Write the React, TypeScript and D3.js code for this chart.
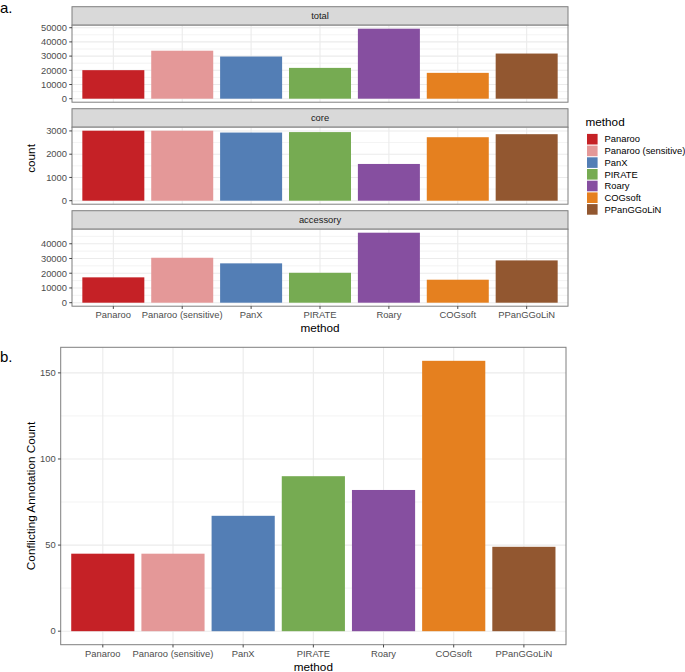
import React from "react";
import * as d3 from "d3";

const methods = ["Panaroo", "Panaroo (sensitive)", "PanX", "PIRATE", "Roary", "COGsoft", "PPanGGoLiN"];
const colors = ["#C52126", "#E49898", "#537EB5", "#76AB52", "#864FA0", "#E5801F", "#925730"];
const totalCounts = [20100, 33800, 29700, 21700, 49300, 18200, 31800];
const coreCounts = [3010, 3010, 2930, 2950, 1580, 2730, 2860];
const accessoryCounts = [17200, 30500, 26700, 20300, 47500, 15600, 28700];
const totalTicks = [0, 10000, 20000, 30000, 40000, 50000];
const coreTicks = [0, 1000, 2000, 3000];
const accessoryTicks = [0, 10000, 20000, 30000, 40000];
const conflictCounts = [45, 45, 67, 90, 82, 157, 49];
const conflictTicks = [0, 50, 100, 150];

const FONT = "'Liberation Sans', Arial, Helvetica, sans-serif";
const TICK_COLOR = "#4D4D4D";
const GRID = "#EBEBEB";
const BORDER = "#7F7F7F";

type PanelProps = {
  left: number;
  right: number;
  top: number;
  bottom: number;
  values: number[];
  ticks: number[];
  showX: boolean;
};

function Panel({ left, right, top, bottom, values, ticks, showX }: PanelProps) {
  const max = d3.max(values) as number;
  const y = d3.scaleLinear().domain([-0.05 * max, 1.05 * max]).range([bottom, top]);
  const x = d3
    .scaleBand<string>()
    .domain(methods)
    .range([left, right])
    .paddingInner(0.1)
    .paddingOuter(0.15);
  const step = ticks[1] - ticks[0];
  const [d0, d1] = y.domain();
  const minors: number[] = [];
  for (let v = ticks[0] - step / 2; v <= d1; v += step) {
    if (v >= d0 && v <= d1) minors.push(v);
  }
  const bw = x.bandwidth();
  return (
    <g>
      <rect x={left} y={top} width={right - left} height={bottom - top} fill="#fff" />
      {minors.map((v) => (
        <line key={"mi" + v} x1={left} x2={right} y1={y(v)} y2={y(v)} stroke={GRID} strokeWidth={0.6} />
      ))}
      {ticks.map((v) => (
        <line key={"ma" + v} x1={left} x2={right} y1={y(v)} y2={y(v)} stroke={GRID} strokeWidth={1.1} />
      ))}
      {methods.map((m) => (
        <line
          key={"vx" + m}
          x1={(x(m) as number) + bw / 2}
          x2={(x(m) as number) + bw / 2}
          y1={top}
          y2={bottom}
          stroke={GRID}
          strokeWidth={1.1}
        />
      ))}
      {methods.map((m, i) => (
        <rect
          key={"b" + m}
          x={x(m) as number}
          y={y(values[i])}
          width={bw}
          height={y(0) - y(values[i])}
          fill={colors[i]}
        />
      ))}
      <rect x={left} y={top} width={right - left} height={bottom - top} fill="none" stroke={BORDER} strokeWidth={1} />
      {ticks.map((v) => (
        <g key={"yt" + v}>
          <line x1={left - 2.75} x2={left} y1={y(v)} y2={y(v)} stroke="#333" strokeWidth={0.9} />
          <text
            x={left - 5}
            y={y(v)}
            dy="0.35em"
            textAnchor="end"
            fontSize={9.4}
            fill={TICK_COLOR}
            fontFamily={FONT}
          >
            {v}
          </text>
        </g>
      ))}
      {showX &&
        methods.map((m) => (
          <g key={"xt" + m}>
            <line
              x1={(x(m) as number) + bw / 2}
              x2={(x(m) as number) + bw / 2}
              y1={bottom}
              y2={bottom + 2.75}
              stroke="#333"
              strokeWidth={0.9}
            />
            <text
              x={(x(m) as number) + bw / 2}
              y={bottom + 11.8}
              textAnchor="middle"
              fontSize={9.4}
              fill={TICK_COLOR}
              fontFamily={FONT}
            >
              {m}
            </text>
          </g>
        ))}
    </g>
  );
}

const facetNames = ["total", "core", "accessory"];
const facetValues = [totalCounts, coreCounts, accessoryCounts];
const facetTicks = [totalTicks, coreTicks, accessoryTicks];

export default function App() {
  const aLeft = 72;
  const aRight = 568;
  const stripH = 18.5;
  const panelH = 77;
  const facetStep = 102;
  const firstStrip = 6.7;

  const bLeft = 60.7;
  const bRight = 566;
  const bTop = 347.3;
  const bBottom = 644.7;

  const facets = facetNames.map((name, i) => {
    const sTop = firstStrip + i * facetStep;
    return { name, sTop, pTop: sTop + stripH, pBottom: sTop + stripH + panelH, values: facetValues[i], ticks: facetTicks[i] };
  });
  const lastBottom = facets[facets.length - 1].pBottom;

  return (
    <svg
      width={685}
      height={672}
      style={{ position: "absolute", left: 0, top: 0, background: "#fff" }}
      fontFamily={FONT}
    >
      <rect x={0} y={0} width={685} height={672} fill="#fff" />
      <text x={0} y={12.5} fontSize={15} fill="#000">
        a.
      </text>
      {facets.map((f, i) => (
        <g key={f.name}>
          <rect x={aLeft} y={f.sTop} width={aRight - aLeft} height={stripH} fill="#D9D9D9" stroke={BORDER} strokeWidth={1} />
          <text
            x={(aLeft + aRight) / 2}
            y={f.sTop + stripH / 2}
            dy="0.35em"
            textAnchor="middle"
            fontSize={9.4}
            fill="#1A1A1A"
          >
            {f.name}
          </text>
          <Panel
            left={aLeft}
            right={aRight}
            top={f.pTop}
            bottom={f.pBottom}
            values={f.values}
            ticks={f.ticks}
            showX={i === facets.length - 1}
          />
        </g>
      ))}
      <text
        transform={`translate(31,${(facets[0].sTop + lastBottom) / 2 + 2}) rotate(-90)`}
        textAnchor="middle"
        dy="0.35em"
        fontSize={11.75}
        fill="#000"
      >
        count
      </text>
      <text x={(aLeft + aRight) / 2} y={lastBottom + 26} textAnchor="middle" fontSize={11.75} fill="#000">
        method
      </text>

      <text x={585.5} y={125.5} fontSize={11.75} fill="#000">
        method
      </text>
      {methods.map((m, i) => {
        const cy = 139.2 + i * 11.7;
        return (
          <g key={"lg" + m}>
            <rect x={587} y={cy - 5.3} width={10.6} height={10.6} fill={colors[i]} />
            <text x={604.5} y={cy} dy="0.35em" fontSize={9.4} fill="#000">
              {m}
            </text>
          </g>
        );
      })}

      <text x={0} y={362} fontSize={15} fill="#000">
        b.
      </text>
      <Panel
        left={bLeft}
        right={bRight}
        top={bTop}
        bottom={bBottom}
        values={conflictCounts}
        ticks={conflictTicks}
        showX={true}
      />
      <text
        transform={`translate(31,${(bTop + bBottom) / 2}) rotate(-90)`}
        textAnchor="middle"
        dy="0.35em"
        fontSize={11.75}
        fill="#000"
      >
        Conflicting Annotation Count
      </text>
      <text x={(bLeft + bRight) / 2} y={bBottom + 26.5} textAnchor="middle" fontSize={11.75} fill="#000">
        method
      </text>
    </svg>
  );
}
